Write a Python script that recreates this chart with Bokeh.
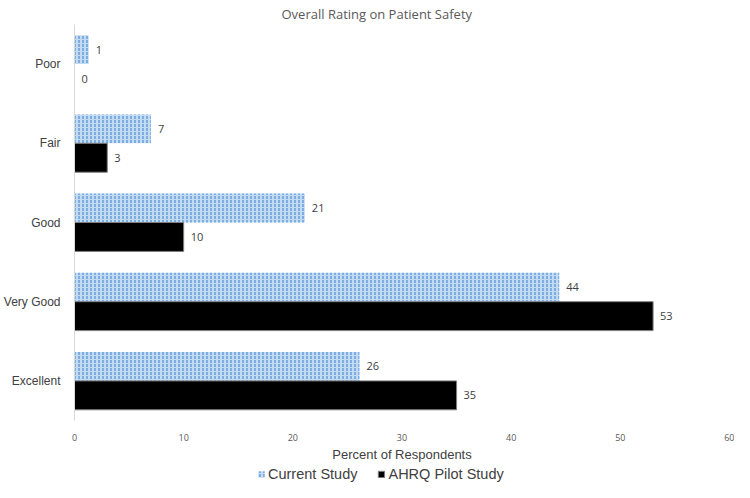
from bokeh.plotting import figure
from bokeh.layouts import column
from bokeh.models import (FactorRange, Range1d, ColumnDataSource, Legend,
                          LegendItem, FixedTicker)
from bokeh.transform import dodge
from bokeh.core.properties import value
from bokeh.embed import file_html
from bokeh.resources import INLINE

# ---- data ----
categories = ["Poor", "Fair", "Good", "Very Good", "Excellent"]
current_study = [1.3, 7.0, 21.1, 44.4, 26.1]
ahrq_pilot = [0.0, 3.0, 10.0, 53.0, 35.0]
x_ticks = [0, 10, 20, 30, 40, 50, 60]
series_names = ["Current Study", "AHRQ Pilot Study"]

src = ColumnDataSource(dict(
    cat=categories,
    cur=current_study,
    ahrq=ahrq_pilot,
    cur_lbl=[f"{v:.0f}" for v in current_study],
    ahrq_lbl=[f"{v:.0f}" for v in ahrq_pilot],
))

BAR_H = 0.365
OFF = BAR_H / 2
CUR_STYLE = dict(fill_color="#c2daf2", line_color=None,
                 hatch_pattern="vertical_dash", hatch_color="#4f8fd6",
                 hatch_scale=4, hatch_weight=1.2)
AHRQ_STYLE = dict(fill_color="#000000", line_color="#7f7f7f", line_width=1)

p = figure(width=734, height=464,
           y_range=FactorRange(factors=list(reversed(categories))),
           x_range=Range1d(0, 60),
           output_backend="svg", toolbar_location=None,
           min_border_left=60, min_border_right=5,
           min_border_top=20, min_border_bottom=40)

p.hbar(y=dodge("cat", OFF, range=p.y_range), left=0, right="cur",
       height=BAR_H, source=src, **CUR_STYLE)
p.hbar(y=dodge("cat", -OFF, range=p.y_range), left=0, right="ahrq",
       height=BAR_H, source=src, **AHRQ_STYLE)

for xcol, lcol, off in (("cur", "cur_lbl", OFF), ("ahrq", "ahrq_lbl", -OFF)):
    p.text(x=xcol, y=dodge("cat", off, range=p.y_range), text=lcol,
           source=src, x_offset=7, text_baseline="middle",
           text_font=value("Open Sans"), text_font_size="11px",
           text_color="#404040")

# title
p.title.text = "Overall Rating on Patient Safety"
p.title.align = "left"
p.title.offset = 207
p.title.text_font = "Open Sans"
p.title.text_font_size = "13px"
p.title.text_font_style = "normal"
p.title.text_color = "#595959"
p.title.standoff = 4

# axes
p.yaxis.axis_line_color = "#d9d9d9"
p.yaxis.major_tick_line_color = None
p.yaxis.minor_tick_line_color = None
p.yaxis.major_label_text_font = "Liberation Sans"
p.yaxis.major_label_text_font_size = "12px"
p.yaxis.major_label_text_color = "#404040"
p.yaxis.major_label_standoff = 8

p.xaxis.ticker = FixedTicker(ticks=x_ticks)
p.xaxis.axis_line_color = None
p.xaxis.major_tick_line_color = None
p.xaxis.minor_tick_line_color = None
p.xaxis.major_label_text_font = "Open Sans"
p.xaxis.major_label_text_font_size = "9px"
p.xaxis.major_label_text_color = "#595959"
p.xaxis.major_label_standoff = 7
p.xaxis.axis_label = "Percent of Respondents"
p.xaxis.axis_label_text_font = "Liberation Sans"
p.xaxis.axis_label_text_font_size = "13px"
p.xaxis.axis_label_text_font_style = "normal"
p.xaxis.axis_label_text_color = "#404040"
p.xaxis.axis_label_standoff = 3

p.xgrid.grid_line_color = None
p.ygrid.grid_line_color = None
p.outline_line_color = None

# legend strip (separate small figure below the chart)
pl = figure(width=734, height=18, x_range=Range1d(0, 1), y_range=Range1d(0, 1),
            output_backend="svg", toolbar_location=None,
            x_axis_location=None, y_axis_location=None,
            min_border_left=0, min_border_right=0,
            min_border_top=0, min_border_bottom=0)
pl.xgrid.grid_line_color = None
pl.ygrid.grid_line_color = None
pl.outline_line_color = None
# one hidden point each (outside the visible range) so the legend glyphs draw
lr1 = pl.hbar(y=[-5], left=[0], right=[1], height=0.5, **CUR_STYLE)
lr2 = pl.hbar(y=[-5], left=[0], right=[1], height=0.5, **AHRQ_STYLE)

legend = Legend(items=[LegendItem(label=series_names[0], renderers=[lr1]),
                       LegendItem(label=series_names[1], renderers=[lr2])],
                orientation="horizontal", location=(183, 0),
                label_text_font="Liberation Sans", label_text_font_size="14.5px",
                label_text_color="#404040", glyph_width=8, glyph_height=8,
                label_standoff=3, spacing=20, padding=0, margin=0,
                border_line_color=None, background_fill_alpha=0)
pl.add_layout(legend, "center")

layout = column(p, pl, spacing=0)
open("out.html", "w").write(file_html(layout, INLINE))
